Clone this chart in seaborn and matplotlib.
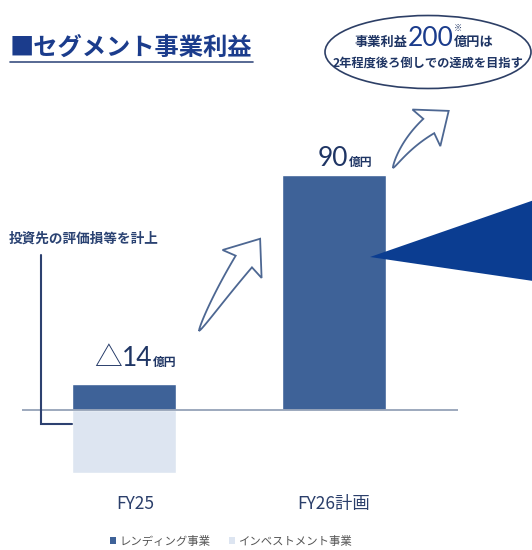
import matplotlib
matplotlib.use("Agg")
import matplotlib.pyplot as plt
import matplotlib.transforms as mtransforms
from matplotlib.patches import Ellipse, Polygon, Patch
import numpy as np
import pandas as pd
import seaborn as sns

# ---- data (億円) ----
categories = ["FY25", "FY26計画"]
segments = ["レンディング事業", "インベストメント事業"]
lending = [10, 90]
investment = [-24, 0]

title = "■セグメント事業利益"
note = "投資先の評価損等を計上"
goal_lines = ["事業利益", "200", "億円は", "2年程度後ろ倒しでの達成を目指す"]

# ---- style ----
sns.set_theme(style="white")
CJK = ["Noto Sans CJK JP", "DejaVu Sans"]
NUM = ["Lato", "Noto Sans CJK JP", "DejaVu Sans"]
plt.rcParams["font.family"] = CJK

DARK = "#3e6298"
LIGHT = "#dde5f1"
NAVY = "#1f3564"
TITLE = "#1b3c8c"
WEDGE = "#0b3d91"
ARROW = "#4d6792"

W, H = 532, 550
fig = plt.figure(figsize=(W / 100, H / 100), dpi=100)
fig.patch.set_facecolor("white")

# main chart axes (pixel box: x 22..458, y 100..480 from top)
ax = fig.add_axes([22 / W, (H - 480) / H, (458 - 22) / W, 380 / H], zorder=1)

df = pd.DataFrame({
    "category": categories * 2,
    "segment": [segments[0]] * 2 + [segments[1]] * 2,
    "value": lending + investment,
})
bar_w = 0.495
sns.barplot(data=df, x="category", y="value", hue="segment",
            hue_order=segments, palette=[DARK, LIGHT], dodge=False,
            width=bar_w, saturation=1, legend=False, ax=ax, zorder=2)
ax.axhline(0, color="#95a3b8", lw=1.3, zorder=3)
ax.set_xlim(-0.4857, 1.590)
ax.set_ylim(-26.81, 118.7)
ax.set_xlabel("")
ax.set_ylabel("")
ax.set_yticks([])
ax.tick_params(axis="x", length=0, pad=11, labelsize=12.5, labelcolor="#2b3f6b")
for s in ax.spines.values():
    s.set_visible(False)
ax.patch.set_alpha(0)
# first category label sits a little right of its bar centre
lbl = ax.get_xticklabels()[0]
lbl.set_transform(lbl.get_transform() +
                  mtransforms.ScaledTranslation(11 / 100, 0, fig.dpi_scale_trans))

# overlay in figure pixels (y downward) for callouts and text
ov = fig.add_axes([0, 0, 1, 1], zorder=5)
ov.set_xlim(0, W)
ov.set_ylim(H, 0)
ov.axis("off")
ov.patch.set_alpha(0)

renderer = fig.canvas.get_renderer()


def to_px(x, y):
    dx, dy = ax.transData.transform((x, y))
    return dx, H - dy


def place_row(xc, y, pieces):
    """Lay out text pieces left to right on one baseline, centred on xc."""
    made = []
    cur = 0.0
    for s, kw in pieces:
        t = ov.text(0, y, s, va="baseline", ha="left", **kw)
        w = t.get_window_extent(renderer).width
        made.append((t, cur, w))
        cur += w
    start = xc - cur / 2
    for t, off, w in made:
        t.set_x(start + off)
    return [(start + off, w) for _, off, w in made]


def tapered_arrow(p0, p1, bend, shaft_w, head_w, head_len, n=40):
    """Hollow curved arrow: pointed tail widening toward a broad head."""
    p0, p1 = np.asarray(p0, float), np.asarray(p1, float)
    d = p1 - p0
    u = d / np.hypot(*d)
    perp = np.array([-u[1], u[0]])
    base = p1 - u * head_len
    ctrl = (p0 + base) / 2 + perp * bend
    t = np.linspace(0, 1, n)[:, None]
    pts = (1 - t) ** 2 * p0 + 2 * (1 - t) * t * ctrl + t ** 2 * base
    tang = 2 * (1 - t) * (ctrl - p0) + 2 * t * (base - ctrl)
    tang /= np.hypot(tang[:, 0], tang[:, 1])[:, None]
    nrm = np.column_stack([-tang[:, 1], tang[:, 0]])
    w = shaft_w * t[:, 0] ** 0.7 / 2
    left = pts + nrm * w[:, None]
    right = pts - nrm * w[:, None]
    ue, ne = tang[-1], nrm[-1]
    back = base - ue * 3
    tip = base + ue * head_len
    outline = np.vstack([left, back + ne * head_w / 2, tip,
                         back - ne * head_w / 2, right[::-1]])
    ov.add_patch(Polygon(outline, closed=True, facecolor="white",
                         edgecolor=ARROW, lw=1.3, joinstyle="miter"))


# title with underline
ov.text(10, 55, title, fontsize=17.5, fontweight="bold", color=TITLE,
        va="baseline", ha="left")
tw = ov.texts[-1].get_window_extent(renderer).width
ov.plot([10, 10 + tw], [62, 62], color="#3a4f80", lw=1.2)

# goal ellipse
ov.add_patch(Ellipse((428, 52), 206, 73, facecolor="white",
                     edgecolor="#2d3f66", lw=1.2))
pos = place_row(424, 46, [
    (goal_lines[0], dict(fontsize=9.5, fontweight="bold", color=NAVY)),
    (goal_lines[1], dict(fontsize=19, color=TITLE, family=NUM)),
    (goal_lines[2], dict(fontsize=9.5, fontweight="bold", color=NAVY)),
])
ov.text(pos[2][0] + 4, 31, "※", fontsize=6, color=NAVY,
        ha="center", va="baseline")
place_row(428, 67, [(goal_lines[3],
                     dict(fontsize=8.8, fontweight="bold", color=NAVY))])

# value labels above each bar
totals = [a + b for a, b in zip(lending, investment)]
label_gap = [18, 9]
for i, tot in enumerate(totals):
    bx, by = to_px(i, max(lending[i], 0))
    num = f"{tot}" if tot >= 0 else f"{abs(tot)}"
    pieces = []
    if tot < 0:
        pieces.append(("△", dict(fontsize=20, color=NAVY, family=CJK,
                                 fontweight="light")))
    pieces.append((num, dict(fontsize=19, color=NAVY, family=NUM)))
    pieces.append(("億円", dict(fontsize=8.5, fontweight="bold", color=NAVY)))
    place_row(bx + 11, by - label_gap[i], pieces)

# note and bracket for FY25
ov.text(9, 243, note, fontsize=9.8, fontweight="bold", color="#2a4272",
        ha="left", va="baseline")
left_px, _ = to_px(0 - bar_w / 2, 0)
ov.plot([41, 41, left_px], [255, 424, 424], color="#2d4170", lw=1.5,
        solid_joinstyle="miter")

# dark callout wedge
ov.add_patch(Polygon([(370, 257), (540, 198), (540, 282)], closed=True,
                     facecolor=WEDGE, edgecolor="none"))

# hollow growth arrows
tapered_arrow((199, 331), (259, 238), bend=-2, shaft_w=20, head_w=48,
              head_len=28)
tapered_arrow((393, 168), (445, 107), bend=-6, shaft_w=18, head_w=46,
              head_len=25)

# legend
handles = [Patch(facecolor=c, edgecolor="none") for c in (DARK, LIGHT)]
fig.legend(handles, segments, loc="center", bbox_to_anchor=(231 / W, 1 - 541 / H),
           ncol=2, frameon=False, fontsize=8.2, handlelength=0.55,
           handleheight=0.55, handletextpad=0.3, columnspacing=1.6,
           labelcolor="#555555")

fig.savefig("out.png", dpi=100, facecolor="white")
